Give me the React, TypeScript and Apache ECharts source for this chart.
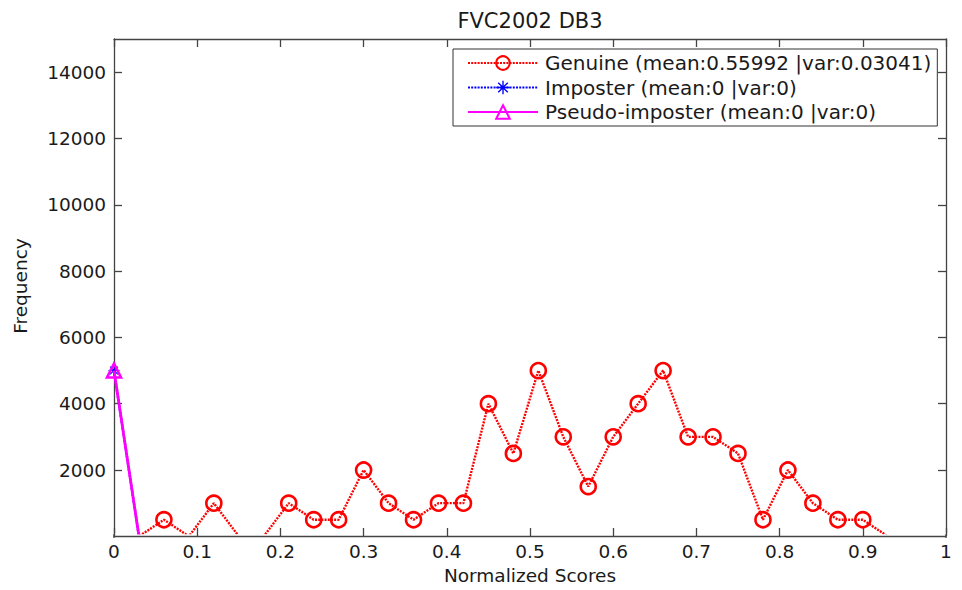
import React, { useEffect, useRef } from "react";
import * as echarts from "echarts";

const xValues = [0, 0.03, 0.06, 0.09, 0.12, 0.15, 0.18, 0.21, 0.24, 0.27, 0.3, 0.33, 0.36, 0.39, 0.42, 0.45, 0.48, 0.51, 0.54, 0.57, 0.6, 0.63, 0.66, 0.69, 0.72, 0.75, 0.78, 0.81, 0.84, 0.87, 0.9, 0.93, 0.96, 0.99];
const genuine = [0, 0, 500, 0, 1000, 0, 0, 1000, 500, 500, 2000, 1000, 500, 1000, 1000, 4000, 2500, 5000, 3000, 1500, 3000, 4000, 5000, 3000, 3000, 2500, 500, 2000, 1000, 500, 500, 0, 0, 0];
const imposter = [5000, 0, 0, 0, 0, 0, 0, 0, 0, 0, 0, 0, 0, 0, 0, 0, 0, 0, 0, 0, 0, 0, 0, 0, 0, 0, 0, 0, 0, 0, 0, 0, 0, 0];
const pseudoImposter = [5000, 0, 0, 0, 0, 0, 0, 0, 0, 0, 0, 0, 0, 0, 0, 0, 0, 0, 0, 0, 0, 0, 0, 0, 0, 0, 0, 0, 0, 0, 0, 0, 0, 0];
const yTicks = [2000, 4000, 6000, 8000, 10000, 12000, 14000];
const seriesNames = [
  "Genuine (mean:0.55992 |var:0.03041)",
  "Imposter (mean:0 |var:0)",
  "Pseudo-imposter (mean:0 |var:0)",
];
const titleText = "FVC2002 DB3";
const xName = "Normalized Scores";
const yName = "Frequency";

const FONT = "DejaVu Sans, Liberation Sans, Arial, sans-serif";
const AX = "#444";
const TXT = "#1a1a1a";
const asterisk =
  "path://M9,0 L11,0 L11,7.6 L16.4,2.2 L17.8,3.6 L12.4,9 L20,9 L20,11 L12.4,11 L17.8,16.4 L16.4,17.8 L11,12.4 L11,20 L9,20 L9,12.4 L3.6,17.8 L2.2,16.4 L7.6,11 L0,11 L0,9 L7.6,9 L2.2,3.6 L3.6,2.2 L9,7.6 Z";

export default function App() {
  const ref = useRef<HTMLDivElement>(null);
  useEffect(() => {
    if (!ref.current) return;
    const chart = echarts.init(ref.current, undefined, { renderer: "svg" });
    const pairs = (ys: number[]) => xValues.map((x, i) => [x, ys[i]]);
    const axisCommon = {
      axisLine: { show: true, onZero: false, lineStyle: { color: AX, width: 1.3 } },
      axisTick: { show: true, inside: true, length: 8, lineStyle: { color: AX, width: 1.3 } },
      splitLine: { show: false },
    };
    const yMin = 100;
    chart.setOption({
      animation: false,
      backgroundColor: "#fff",
      textStyle: { fontFamily: FONT },
      title: {
        text: titleText,
        left: 525,
        textAlign: "center",
        top: 5,
        textStyle: { fontFamily: FONT, fontSize: 21, fontWeight: "normal", color: TXT },
      },
      grid: { left: 114, right: 16, top: 39, bottom: 55, containLabel: false },
      graphic: [
        { type: "line", shape: { x1: 114, y1: 534, x2: 114, y2: 538 }, style: { stroke: AX, lineWidth: 1.3 }, z: 1 },
        { type: "line", shape: { x1: 946, y1: 534, x2: 946, y2: 538 }, style: { stroke: AX, lineWidth: 1.3 }, z: 1 },
      ],
      legend: {
        orient: "vertical",
        left: 453,
        top: 49,
        width: 484,
        padding: [4, 6, 4, 14],
        itemWidth: 70,
        itemHeight: 17,
        itemGap: 4.5,
        borderColor: "#333",
        borderWidth: 1,
        backgroundColor: "#fff",
        textStyle: { fontFamily: FONT, fontSize: 20, color: TXT, padding: [0, 0, 0, 2] },
        data: seriesNames,
      },
      xAxis: [
        {
          type: "value",
          min: 0,
          max: 1,
          interval: 0.1,
          position: "bottom",
          offset: 3,
          name: xName,
          nameLocation: "middle",
          nameGap: 30,
          nameTextStyle: { fontFamily: FONT, fontSize: 18.5, color: TXT },
          axisLabel: { fontFamily: FONT, fontSize: 18.5, color: TXT, margin: 6 },
          ...axisCommon,
        },
        {
          type: "value",
          min: 0,
          max: 1,
          interval: 0.1,
          position: "top",
          axisLabel: { show: false },
          ...axisCommon,
        },
      ],
      yAxis: [
        {
          type: "value",
          min: yMin,
          max: 15000,
          position: "left",
          name: yName,
          nameLocation: "middle",
          nameGap: 84,
          nameTextStyle: { fontFamily: FONT, fontSize: 18.5, color: TXT },
          axisLabel: {
            fontFamily: FONT,
            fontSize: 18.5,
            color: TXT,
            margin: 8,
            customValues: yTicks,
            formatter: (v: number) => String(v),
          },
          ...axisCommon,
          axisTick: { ...axisCommon.axisTick, customValues: yTicks },
        },
        {
          type: "value",
          min: yMin,
          max: 15000,
          position: "right",
          axisLabel: { show: false, customValues: yTicks },
          ...axisCommon,
          axisTick: { ...axisCommon.axisTick, customValues: yTicks },
        },
      ],
      series: [
        {
          name: seriesNames[0],
          type: "line",
          data: pairs(genuine),
          symbol: "circle",
          symbolSize: 15,
          clip: true,
          lineStyle: { color: "#ff0000", width: 2.4, type: [2, 1.2] },
          itemStyle: { color: "rgba(255,255,255,0)", borderColor: "#ff0000", borderWidth: 2.6 },
          z: 2,
        },
        {
          name: seriesNames[1],
          type: "line",
          data: pairs(imposter),
          symbol: asterisk,
          symbolSize: 11,
          clip: true,
          lineStyle: { color: "#0000ff", width: 2.4, type: [2, 1.2] },
          itemStyle: { color: "#0000ff", borderWidth: 0 },
          z: 3,
        },
        {
          name: seriesNames[2],
          type: "line",
          data: pairs(pseudoImposter),
          symbol: "triangle",
          symbolSize: 14,
          clip: true,
          lineStyle: { color: "#ff00ff", width: 2.8 },
          itemStyle: { color: "rgba(255,255,255,0)", borderColor: "#ff00ff", borderWidth: 2.6 },
          z: 4,
        },
      ],
    });
    return () => chart.dispose();
  }, []);
  return (
    <div
      ref={ref}
      style={{ position: "fixed", left: 0, top: 0, width: 962, height: 590, background: "#fff" }}
    />
  );
}
